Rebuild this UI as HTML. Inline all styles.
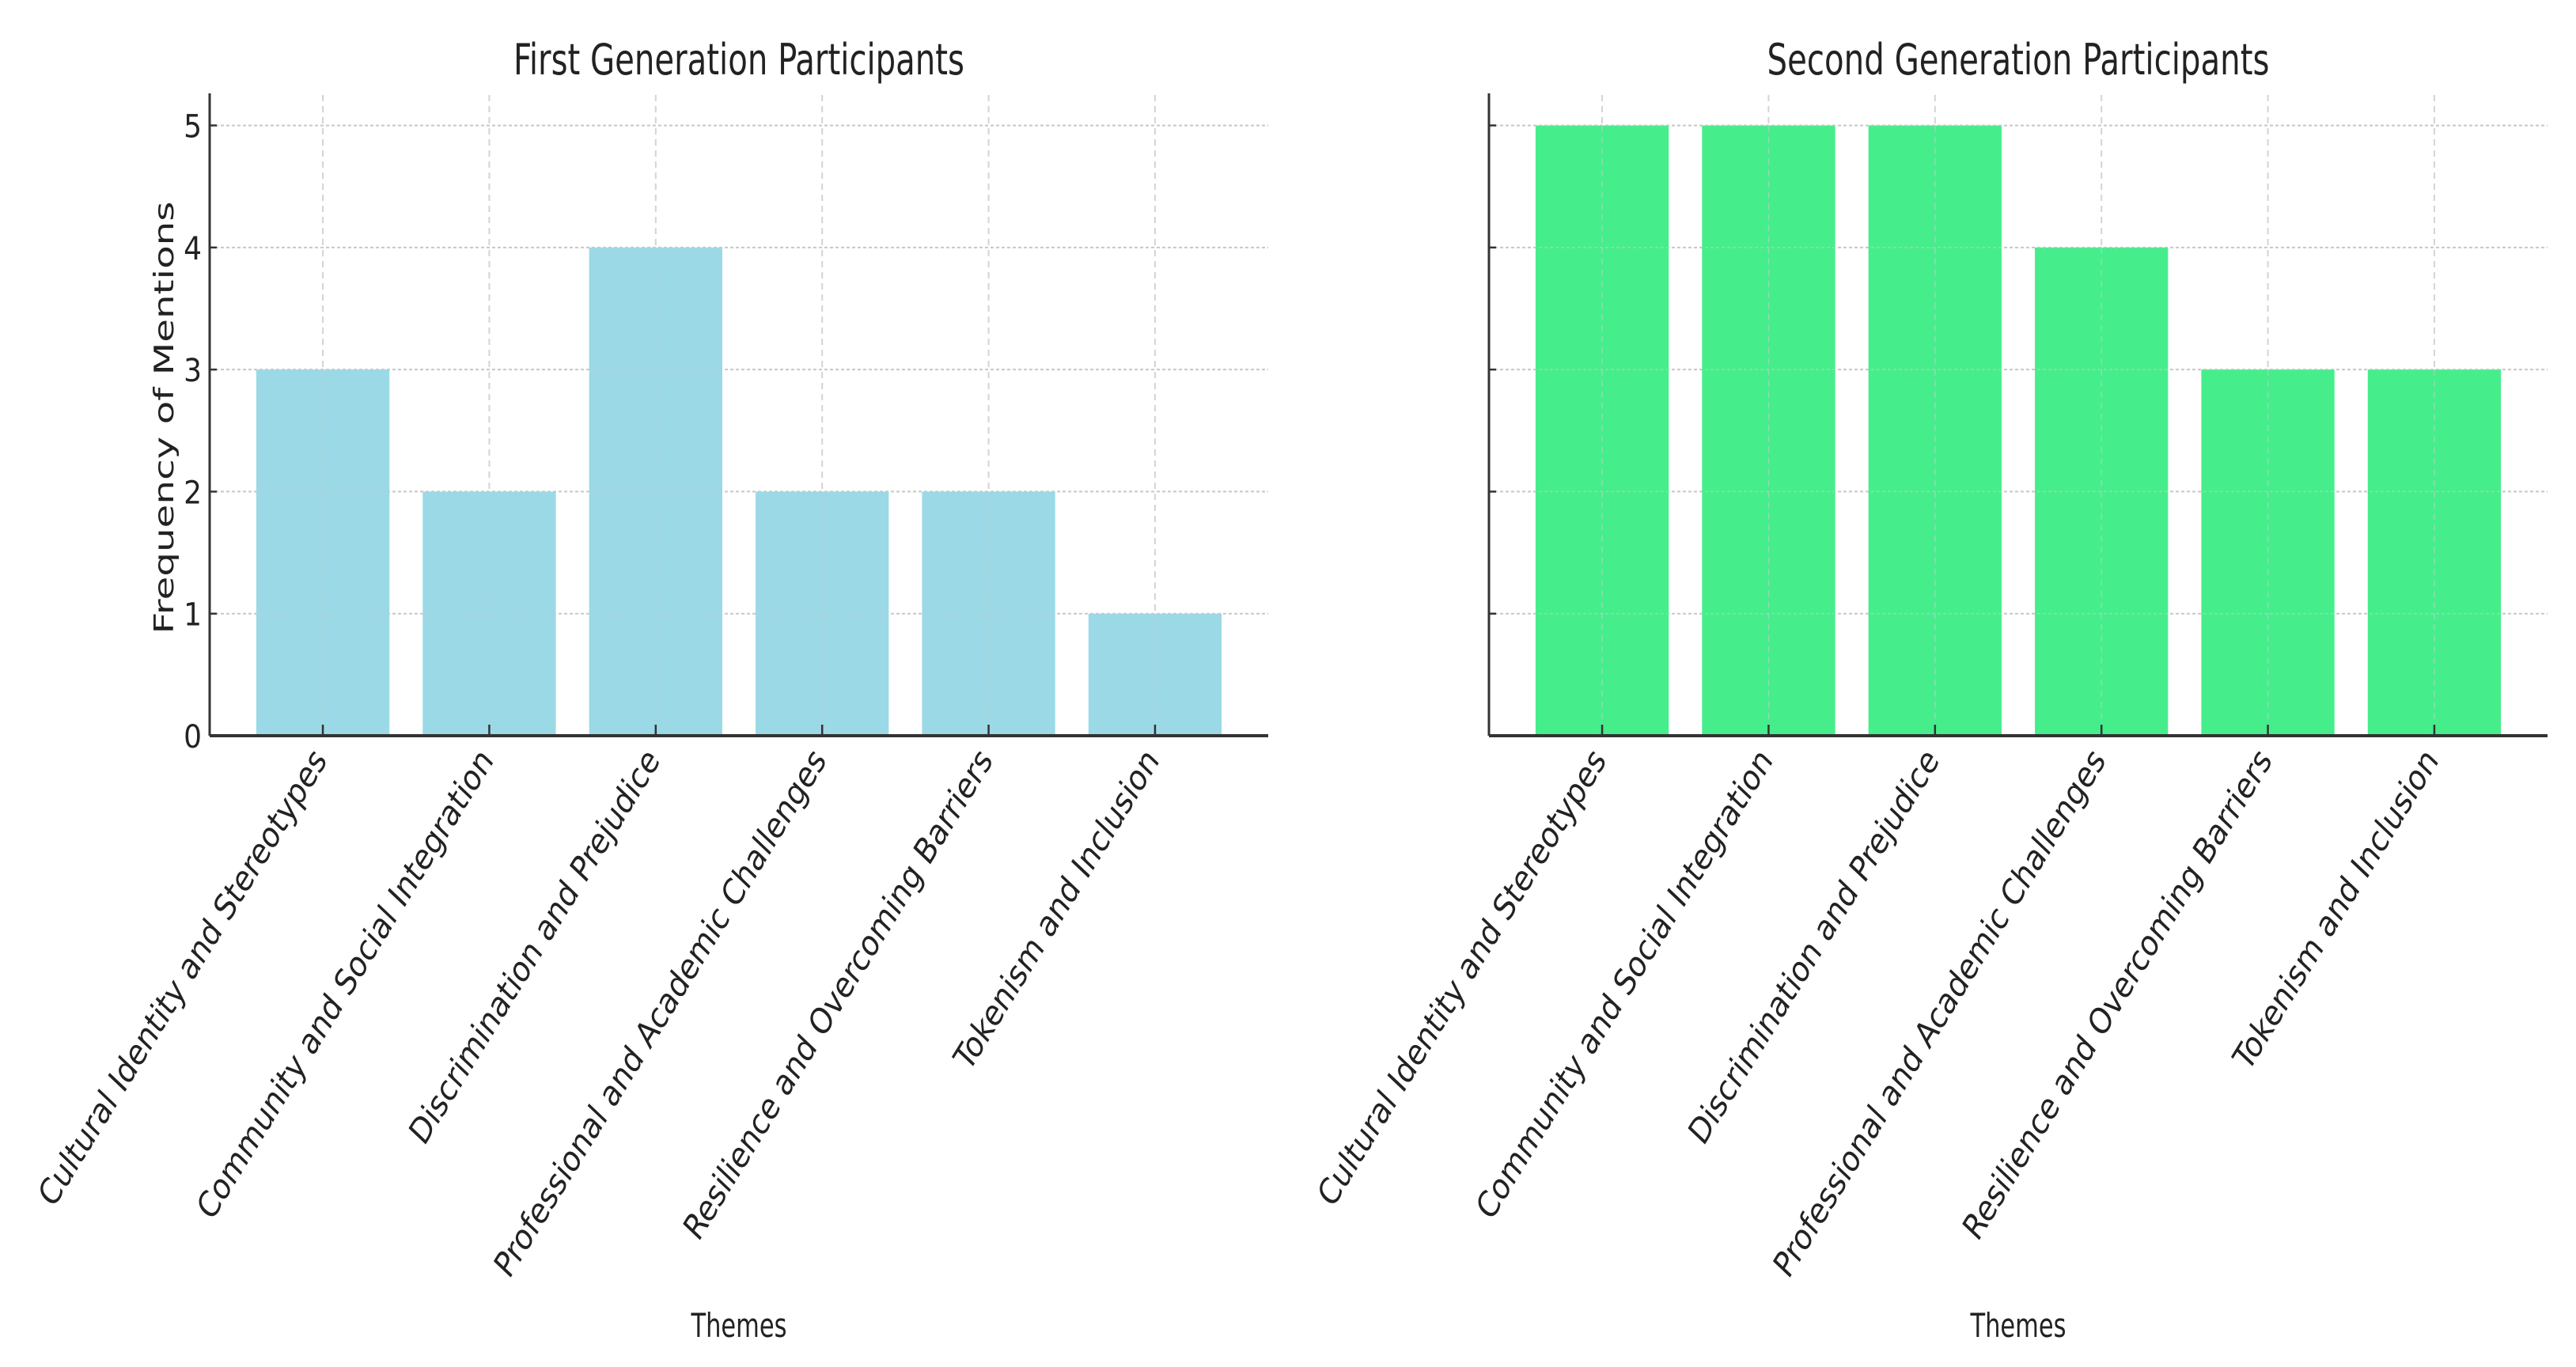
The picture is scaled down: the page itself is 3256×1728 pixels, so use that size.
<!DOCTYPE html>
<html><head><meta charset="utf-8"><style>
html,body{margin:0;padding:0;background:#fff;}
svg{display:block;}
</style></head><body>
<svg id="chart" width="3256" height="1728" viewBox="0 0 3256 1728" xmlns="http://www.w3.org/2000/svg"></svg>
<script>
const categories = ["Cultural Identity and Stereotypes","Community and Social Integration","Discrimination and Prejudice","Professional and Academic Challenges","Resilience and Overcoming Barriers","Tokenism and Inclusion"];
const firstGenValues = [3, 2, 4, 2, 2, 1];
const secondGenValues = [5, 5, 5, 4, 3, 3];
const yTickLabels = ["0","1","2","3","4","5"];
const panelTitles = ["First Generation Participants","Second Generation Participants"];

const NS = "http://www.w3.org/2000/svg";
const svgRoot = document.getElementById('chart');
function mk(tag, attrs, parent){
  const e = document.createElementNS(NS, tag);
  for (const k in attrs) e.setAttribute(k, attrs[k]);
  (parent||svgRoot).appendChild(e);
  return e;
}
const FONT = '"DejaVu Sans", "Liberation Sans", sans-serif';
const CFONT = '"DejaVu Sans Condensed", "DejaVu Sans", "Liberation Sans", sans-serif';

const panels = [
  {left:265, right:1603, values:firstGenValues, color:"#9bd9e6", name:"first-generation", showY:true, titleLen:570},
  {left:1882, right:3220, values:secondGenValues, color:"#45ee8a", name:"second-generation", showY:false, titleLen:635}
];
const plotTop = 120, plotBottom = 930, yMax = 5.25;

panels.forEach((p, pi) => {
  const g = mk('g', {});
  
  
  const n = categories.length;
  const span = n - 1 + 2*0.68;
  const step = (p.right - p.left) / span;
  const xS = i => p.left + (0.68 + i) * step;
  const yS = v => plotBottom - v / yMax * (plotBottom - plotTop);
  const bw = step * 0.8;

  yTickLabels.forEach((t) => {
    const v = +t;
    if (v === 0) return;
    const l = mk('line', {x1:p.left, x2:p.right, y1:yS(v), y2:yS(v), stroke:"#c8c8c8", "stroke-width":2, "stroke-dasharray":"4,3"}, g);
    
    
  });
  categories.forEach((c, i) => {
    const l = mk('line', {x1:xS(i), x2:xS(i), y1:plotTop, y2:plotBottom, stroke:"#d4d4d4", "stroke-width":2, "stroke-dasharray":"8,6"}, g);
    
    
  });
  p.values.forEach((v, i) => {
    const r = mk('rect', {x:xS(i)-bw/2, y:yS(v), width:bw, height:plotBottom-yS(v), fill:p.color}, g);
    
    
  });
  categories.forEach((c, i) => {
    const l = mk('line', {x1:xS(i), x2:xS(i), y1:yS(p.values[i]), y2:plotBottom, stroke:"#bfcfd3", "stroke-width":1.5, "stroke-dasharray":"8,6", opacity:0.6}, g);
    
    
  });
  yTickLabels.forEach((t) => {
    const v = +t;
    if (v === 0) return;
    const l = mk('line', {x1:p.left, x2:p.right, y1:yS(v), y2:yS(v), stroke:"#c8c8c8", "stroke-width":1.5, "stroke-dasharray":"4,3", opacity:0.7}, g);
    
    
  });
  const sl = mk('line', {x1:p.left, x2:p.left, y1:plotTop-2, y2:plotBottom, stroke:"#333", "stroke-width":3}, g);
  
  
  const sb = mk('line', {x1:p.left, x2:p.right, y1:plotBottom, y2:plotBottom, stroke:"#333", "stroke-width":4}, g);
  
  
  yTickLabels.forEach((t) => {
    const v = +t;
    const tk = mk('line', {x1:p.left, x2:p.left+9, y1:yS(v), y2:yS(v), stroke:"#333", "stroke-width":2.5}, g);
    
    
    if (p.showY) {
      const tx = mk('text', {x:p.left-10, y:yS(v)+15, "text-anchor":"end", "font-family":CFONT, "font-size":40, fill:"#222"}, g);
      tx.textContent = t;
      
      
    }
  });
  categories.forEach((c, i) => {
    const tk = mk('line', {x1:xS(i), x2:xS(i), y1:plotBottom, y2:plotBottom-14, stroke:"#333", "stroke-width":2.5}, g);
    
    
    const ax = xS(i) - 4, ay = 952;
    const tx = mk('text', {x:0, y:14, "text-anchor":"end", "font-family":FONT, "font-size":40, fill:"#222", transform:`translate(${ax} ${ay}) rotate(-58.5) skewX(-12)`}, g);
    tx.textContent = c;
    
    
  });
  const cx = (p.left + p.right) / 2;
  const ti = mk('text', {x:cx, y:94, "text-anchor":"middle", "font-family":CFONT, "font-size":54, fill:"#222", textLength:p.titleLen, lengthAdjust:"spacingAndGlyphs"}, g);
  ti.textContent = panelTitles[pi];
  
  
  const xt = mk('text', {x:cx, y:1690, "text-anchor":"middle", "font-family":CFONT, "font-size":42, fill:"#222", textLength:121, lengthAdjust:"spacingAndGlyphs"}, g);
  xt.textContent = "Themes";
  
  
  if (p.showY) {
    const yt = mk('text', {x:0, y:0, "text-anchor":"middle", "font-family":FONT, "font-size":34, fill:"#222", textLength:547, lengthAdjust:"spacingAndGlyphs", transform:"translate(219 528) rotate(-90)"}, g);
    yt.textContent = "Frequency of Mentions";
    
    
  }
});
</script>
</body></html>
